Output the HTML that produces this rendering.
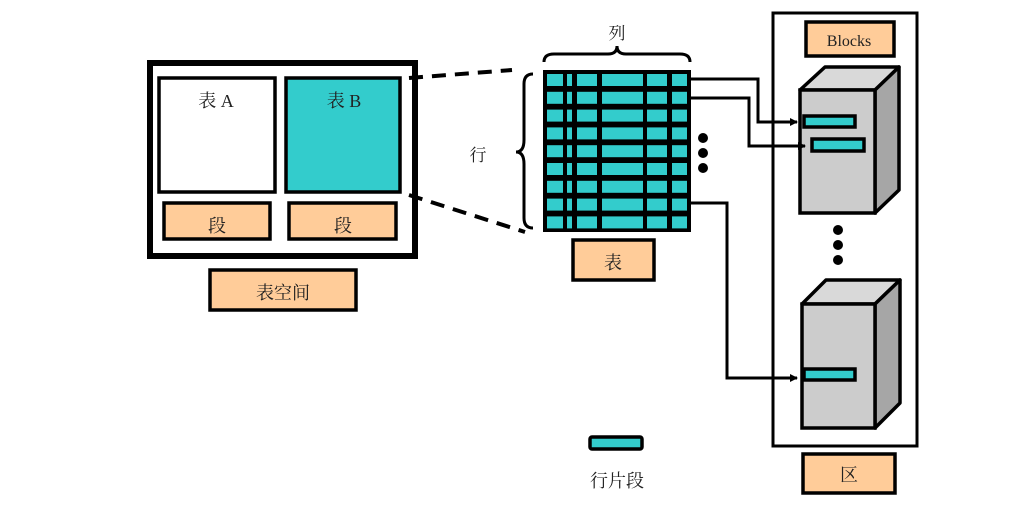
<!DOCTYPE html>
<html><head><meta charset="utf-8"><style>
html,body{margin:0;padding:0;background:#fff;}
svg{display:block;}
text{font-family:"Liberation Serif","Noto Serif CJK SC","Noto Sans CJK SC",serif;fill:#222;}
</style></head><body>
<svg width="1024" height="505" viewBox="0 0 1024 505" xmlns="http://www.w3.org/2000/svg">
<defs>
<marker id="ar" markerWidth="8" markerHeight="8" refX="7" refY="4" orient="auto" markerUnits="userSpaceOnUse">
<path d="M0,0 L8,4 L0,8 z" fill="#000"/>
</marker>
</defs>
<rect x="150" y="63" width="265" height="193" fill="#fff" stroke="#000" stroke-width="6"/>
<rect x="159" y="78" width="116" height="114" fill="#fff" stroke="#000" stroke-width="3.5"/>
<rect x="286" y="78" width="114" height="114" fill="#33cccc" stroke="#000" stroke-width="3.5"/>
<text x="216" y="107" font-size="18" text-anchor="middle">表 A</text>
<text x="344" y="107" font-size="18" text-anchor="middle">表 B</text>
<rect x="164" y="203" width="106" height="36" fill="#ffcc99" stroke="#000" stroke-width="3.5"/>
<rect x="289" y="203" width="107" height="36" fill="#ffcc99" stroke="#000" stroke-width="3.5"/>
<text x="217" y="232" font-size="18" text-anchor="middle">段</text>
<text x="343" y="232" font-size="18" text-anchor="middle">段</text>
<rect x="210" y="270" width="146" height="40" fill="#ffcc99" stroke="#000" stroke-width="3.5"/>
<text x="283" y="299" font-size="18" text-anchor="middle">表空间</text>
<line x1="409" y1="78" x2="512" y2="70" stroke="#000" stroke-width="4" stroke-dasharray="14,9"/>
<line x1="409" y1="195" x2="525" y2="232" stroke="#000" stroke-width="4" stroke-dasharray="14,9"/>
<path d="M533,74 Q524,74 524,84 L524,140 Q524,152 516,152 Q524,152 524,164 L524,218 Q524,228 533,228" fill="none" stroke="#000" stroke-width="3"/>
<text x="478" y="161" font-size="17" text-anchor="middle">行</text>
<path d="M544,62 Q544,54 554,54 L608,54 Q617,54 617,46 Q617,54 626,54 L680,54 Q690,54 690,62" fill="none" stroke="#000" stroke-width="3"/>
<text x="617" y="39" font-size="17" text-anchor="middle">列</text>
<rect x="543" y="70" width="148" height="162" fill="#000"/>
<g fill="#33cccc">
<g id="row">
<rect x="547" y="74" width="16" height="12"/>
<rect x="567" y="74" width="5" height="12"/>
<rect x="577" y="74" width="20" height="12"/>
<rect x="602" y="74" width="41" height="12"/>
<rect x="647" y="74" width="20" height="12"/>
<rect x="672" y="74" width="15" height="12"/>
</g>
<use href="#row" y="17.8"/><use href="#row" y="35.6"/><use href="#row" y="53.4"/><use href="#row" y="71.2"/><use href="#row" y="89"/><use href="#row" y="106.8"/><use href="#row" y="124.6"/><use href="#row" y="142.4"/>
</g>
<rect x="573" y="240" width="81" height="40" fill="#ffcc99" stroke="#000" stroke-width="3.5"/>
<text x="613" y="269" font-size="18" text-anchor="middle">表</text>
<circle cx="703" cy="138" r="5"/><circle cx="703" cy="153" r="5"/><circle cx="703" cy="168" r="5"/>
<rect x="773" y="13" width="144" height="433" fill="none" stroke="#000" stroke-width="3"/>
<rect x="806" y="22" width="88" height="34" fill="#ffcc99" stroke="#000" stroke-width="3.5"/>
<text x="849" y="46" font-size="16" text-anchor="middle">Blocks</text>
<polygon points="800,90 825,67 899,67 875,90" fill="#d9d9d9" stroke="#000" stroke-width="3.5" stroke-linejoin="round"/>
<polygon points="875,90 899,67 899,190 875,213" fill="#a6a6a6" stroke="#000" stroke-width="3.5" stroke-linejoin="round"/>
<rect x="800" y="90" width="75" height="123" fill="#cccccc" stroke="#000" stroke-width="3.5"/>
<rect x="804" y="116" width="51" height="11" fill="#33cccc" stroke="#000" stroke-width="3.5"/>
<rect x="812" y="139" width="52" height="12" fill="#33cccc" stroke="#000" stroke-width="3.5"/>
<circle cx="838" cy="230" r="5"/><circle cx="838" cy="245" r="5"/><circle cx="838" cy="260" r="5"/>
<polygon points="802,304 826,280 900,280 875,304" fill="#d9d9d9" stroke="#000" stroke-width="3.5" stroke-linejoin="round"/>
<polygon points="875,304 900,280 900,403 875,428" fill="#a6a6a6" stroke="#000" stroke-width="3.5" stroke-linejoin="round"/>
<rect x="802" y="304" width="73" height="124" fill="#cccccc" stroke="#000" stroke-width="3.5"/>
<rect x="804" y="369" width="51" height="11" fill="#33cccc" stroke="#000" stroke-width="3.5"/>
<rect x="803" y="454" width="92" height="39" fill="#ffcc99" stroke="#000" stroke-width="3.5"/>
<text x="849" y="481" font-size="18" text-anchor="middle">区</text>
<g fill="none" stroke="#000" stroke-width="3">
<polyline points="691,79 758,79 758,122 797,122" marker-end="url(#ar)"/>
<polyline points="691,98 749,98 749,146 805,146" marker-end="url(#ar)"/>
<polyline points="691,203 727,203 727,378 797,378" marker-end="url(#ar)"/>
</g>
<rect x="590" y="437" width="52" height="12" fill="#33cccc" stroke="#000" stroke-width="3.5" rx="2"/>
<text x="617" y="487" font-size="18" text-anchor="middle">行片段</text>
</svg>
</body></html>
